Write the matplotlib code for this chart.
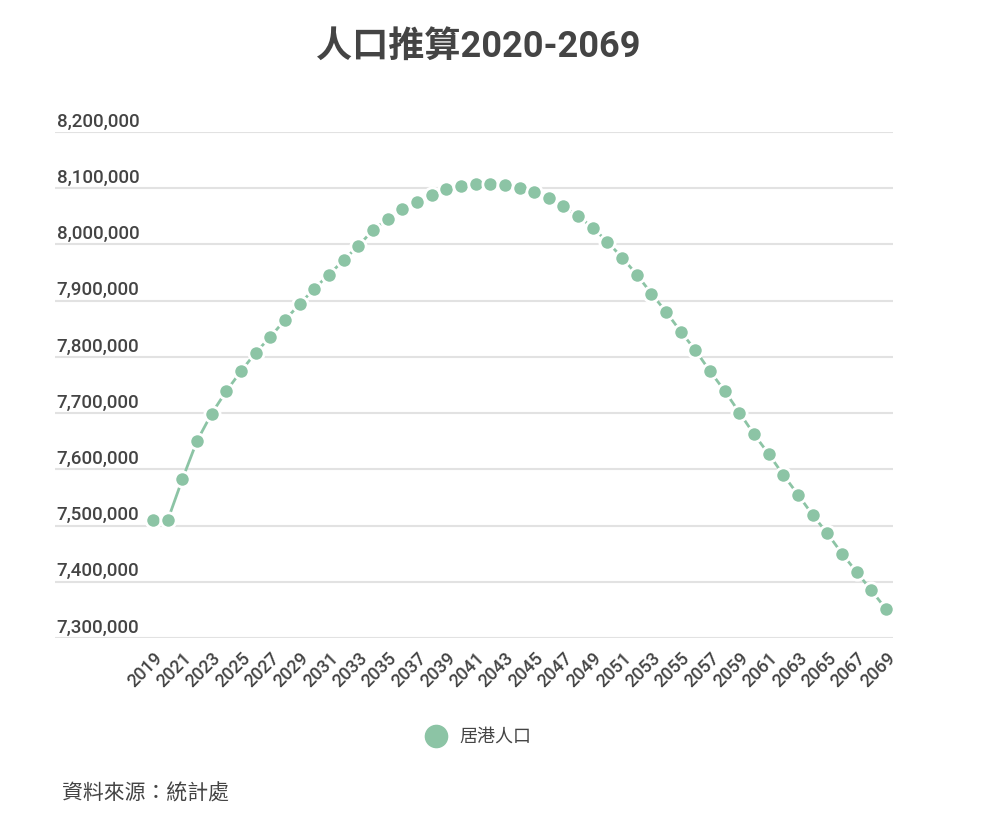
import numpy as np
import matplotlib
matplotlib.use("Agg")
import matplotlib.pyplot as plt
from matplotlib.lines import Line2D

plt.rcParams['font.family'] = ['Roboto', 'Noto Sans CJK TC', 'DejaVu Sans']

# data
years = list(range(2019, 2070))
population = [
    7509300, 7509300, 7582200, 7650400, 7699100, 7739300, 7774400, 7807600,
    7835500, 7865700, 7893600, 7921500, 7946400, 7971900, 7997400, 8025300,
    8045400, 8062600, 8075700, 8088100, 8098200, 8104100, 8108300, 8108300,
    8106300, 8100500, 8092900, 8083400, 8068000, 8050200, 8030000, 8004400,
    7976700, 7946400, 7912600, 7880000, 7845000, 7811700, 7774400, 7739300,
    7700900, 7662300, 7627200, 7589900, 7554900, 7518700, 7486100, 7450000,
    7417300, 7384700, 7351500,
]
y_ticks = [7300000, 7400000, 7500000, 7600000, 7700000, 7800000, 7900000,
           8000000, 8100000, 8200000]
series_name = '居港人口'
title = '人口推算2020-2069'
source = '資料來源：統計處'

green = '#8cc4a5'
text_col = '#444444'

fig = plt.figure(figsize=(10, 8.27), dpi=100)
ax = fig.add_axes([0.055, 1 - 638 / 827, 0.838, (638 - 132) / 827])

x = np.arange(len(years))
ax.plot(x, population, color=green, lw=2, marker='o', markersize=11,
        markerfacecolor=green, markeredgecolor='white', markeredgewidth=2,
        zorder=3, clip_on=False)

# x range: first point at px 153, last at px 886 in a 55..893 axes
px_per = (886 - 153) / (len(years) - 1)
ax.set_xlim(-(153 - 55) / px_per, len(years) - 1 + (893 - 886) / px_per)
ax.set_ylim(y_ticks[0], y_ticks[-1])

ax.set_yticks(y_ticks)
ax.set_yticklabels([])
ax.tick_params(axis='y', length=0)
ax.grid(axis='y', color='#e2e2e2', lw=1.5)
ax.set_axisbelow(True)
for s in ax.spines.values():
    s.set_visible(False)

# labels sit just above their gridline
trans = ax.get_yaxis_transform()
for v in y_ticks:
    ax.text(0.002, v + 2500, f'{v:,}', transform=trans, ha='left', va='bottom',
            fontsize=13.5, color=text_col, fontweight='medium')

ax.set_xticks(x[::2])
ax.set_xticklabels([str(y) for y in years[::2]], rotation=45, ha='right',
                   rotation_mode='anchor', fontsize=13, color=text_col,
                   fontweight='medium')
ax.tick_params(axis='x', length=0, pad=8)

fig.text(0.478, 1 - 47 / 827, title, ha='center', va='center', fontsize=26,
         fontweight='bold', color=text_col)

handle = Line2D([], [], lw=0, marker='o', markersize=16, color=green)
fig.legend([handle], [series_name], loc='center', bbox_to_anchor=(0.475, 1 - 737 / 827),
           frameon=False, fontsize=13, handletextpad=0.3, labelcolor=text_col)

fig.text(0.062, 1 - 793 / 827, source, ha='left', va='center', fontsize=15,
         color=text_col)

fig.savefig('out.png', dpi=100, facecolor='white')
